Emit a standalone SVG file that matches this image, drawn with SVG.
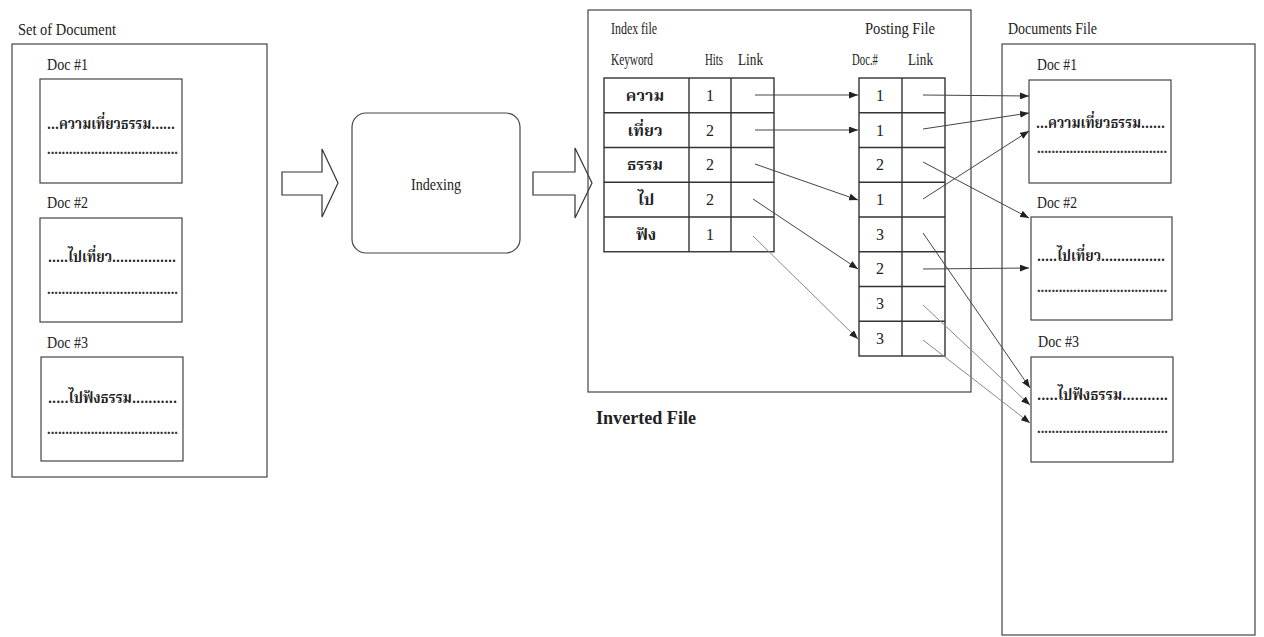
<svg xmlns="http://www.w3.org/2000/svg" width="1264" height="637" viewBox="0 0 1264 637">
  <style>
    .lbl { font-family: "Liberation Serif", "DejaVu Serif", serif; font-size: 16px; fill: #222; }
    .hdr { font-family: "Liberation Serif", "DejaVu Serif", serif; font-size: 16px; fill: #222; }
    .num { font-family: "Liberation Serif", "DejaVu Serif", serif; font-size: 16px; fill: #222; text-anchor: middle; }
    .th  { font-family: "Noto Serif Thai", "Noto Sans Thai", "Loma", "Garuda", "Norasi", "Liberation Serif", serif; font-size: 16px; font-weight: bold; fill: #222; }
    .thc { text-anchor: middle; }
    .dots { font-family: "Liberation Serif", serif; font-size: 15px; font-weight: bold; fill: #333; }
    .box { fill: none; stroke: #444; stroke-width: 1.2; }
    .cell { fill: none; stroke: #333; stroke-width: 1.4; }
    .hollow { fill: #fff; stroke: #333; stroke-width: 1.2; stroke-linejoin: miter; }
    .link { fill: none; stroke: #444; stroke-width: 1; }
    .link.light { stroke: #888; }
  </style>
  <defs>
    <marker id="tip" markerUnits="userSpaceOnUse" markerWidth="9" markerHeight="7" refX="9" refY="3.5" orient="auto">
      <path d="M0,0 L9,3.5 L0,7 Z" fill="#222"/>
    </marker>
  </defs>

  <rect width="1264" height="637" fill="#fff"/>

  <!-- Source documents -->
  <g id="set-of-document">
    <text class="lbl" x="18" y="35" textLength="98" lengthAdjust="spacingAndGlyphs">Set of Document</text>
    <rect class="box" x="12" y="44" width="255" height="433"/>
    <text class="lbl" x="47" y="70" textLength="41" lengthAdjust="spacingAndGlyphs">Doc #1</text>
    <rect class="box" x="40" y="79" width="142" height="104"/>
    <text class="th" x="47" y="129" textLength="128" lengthAdjust="spacingAndGlyphs">...ความเที่ยวธรรม......</text>
    <text class="dots" x="47" y="154" textLength="131" lengthAdjust="spacingAndGlyphs">....................................</text>
    <text class="lbl" x="47" y="208" textLength="41" lengthAdjust="spacingAndGlyphs">Doc #2</text>
    <rect class="box" x="40" y="218" width="142" height="104"/>
    <text class="th" x="48" y="262" textLength="128" lengthAdjust="spacingAndGlyphs">.....ไปเที่ยว................</text>
    <text class="dots" x="47" y="294" textLength="131" lengthAdjust="spacingAndGlyphs">....................................</text>
    <text class="lbl" x="47" y="348" textLength="41" lengthAdjust="spacingAndGlyphs">Doc #3</text>
    <rect class="box" x="41" y="357" width="142" height="104"/>
    <text class="th" x="48" y="403" textLength="129" lengthAdjust="spacingAndGlyphs">.....ไปฟังธรรม...........</text>
    <text class="dots" x="47" y="434" textLength="131" lengthAdjust="spacingAndGlyphs">....................................</text>
  </g>

  <!-- Block arrow into indexing -->
  <g id="arrow-in">
    <polygon class="hollow" points="282,172 322,172 322,149 338,183 322,217 322,195 282,195"/>
  </g>

  <!-- Indexing process -->
  <g id="indexing">
    <rect class="box" x="352" y="113" width="168" height="140" rx="14" ry="14"/>
    <text class="lbl" x="436" y="190" text-anchor="middle" textLength="50" lengthAdjust="spacingAndGlyphs">Indexing</text>
  </g>

  <!-- Block arrow out of indexing -->
  <g id="arrow-out">
    <polygon class="hollow" points="533,172 575,172 575,148 592,183 575,218 575,195 533,195"/>
  </g>

  <!-- Inverted file: index table and posting table -->
  <g id="inverted-file">
    <rect class="box" x="588" y="10" width="383" height="382"/>
    <text x="596" y="424" style="font-family:'Liberation Serif',serif;font-size:18px;font-weight:bold;fill:#222" textLength="100" lengthAdjust="spacingAndGlyphs">Inverted File</text>
  </g>

  <g id="index-file">
    <text class="hdr" x="611" y="34" textLength="46" lengthAdjust="spacingAndGlyphs">Index file</text>
    <text class="hdr" x="611" y="65" textLength="42" lengthAdjust="spacingAndGlyphs">Keyword</text>
    <text class="hdr" x="705" y="65" textLength="18" lengthAdjust="spacingAndGlyphs">Hits</text>
    <text class="hdr" x="738" y="65" textLength="25" lengthAdjust="spacingAndGlyphs">Link</text>
    <rect class="cell" x="604" y="78" width="170" height="173.75"/>
    <path class="cell" d="M689,78 V251.75 M731,78 V251.75 M604,112.75 H774 M604,147.5 H774 M604,182.25 H774 M604,217 H774"/>
    <text class="th thc" x="645" y="101">ความ</text>
    <text class="th thc" x="645" y="136">เที่ยว</text>
    <text class="th thc" x="645" y="170">ธรรม</text>
    <text class="th thc" x="646" y="205">ไป</text>
    <text class="th thc" x="646" y="240">ฟัง</text>
    <text class="num" x="710" y="101">1</text>
    <text class="num" x="710" y="136">2</text>
    <text class="num" x="710" y="170">2</text>
    <text class="num" x="710" y="205">2</text>
    <text class="num" x="710" y="240">1</text>
  </g>

  <g id="posting-file">
    <text class="hdr" x="865" y="34" textLength="70" lengthAdjust="spacingAndGlyphs">Posting File</text>
    <text class="hdr" x="852" y="65" textLength="26" lengthAdjust="spacingAndGlyphs">Doc.#</text>
    <text class="hdr" x="908" y="65" textLength="25" lengthAdjust="spacingAndGlyphs">Link</text>
    <rect class="cell" x="859" y="78" width="86" height="278"/>
    <path class="cell" d="M902,78 V356 M859,112.75 H945 M859,147.5 H945 M859,182.25 H945 M859,217 H945 M859,251.75 H945 M859,286.5 H945 M859,321.25 H945"/>
    <text class="num" x="880" y="101">1</text>
    <text class="num" x="880" y="136">1</text>
    <text class="num" x="880" y="170">2</text>
    <text class="num" x="880" y="205">1</text>
    <text class="num" x="880" y="240">3</text>
    <text class="num" x="880" y="274">2</text>
    <text class="num" x="880" y="309">3</text>
    <text class="num" x="880" y="344">3</text>
  </g>

  <!-- Stored documents -->
  <g id="documents-file">
    <text class="lbl" x="1008" y="34" textLength="89" lengthAdjust="spacingAndGlyphs">Documents File</text>
    <rect class="box" x="1002" y="44" width="253" height="591"/>
    <text class="lbl" x="1037" y="70" textLength="40" lengthAdjust="spacingAndGlyphs">Doc #1</text>
    <rect class="box" x="1029" y="80" width="142" height="103"/>
    <text class="th" x="1036" y="128" textLength="129" lengthAdjust="spacingAndGlyphs">...ความเที่ยวธรรม......</text>
    <text class="dots" x="1037" y="153" textLength="130" lengthAdjust="spacingAndGlyphs">....................................</text>
    <text class="lbl" x="1037" y="208" textLength="40" lengthAdjust="spacingAndGlyphs">Doc #2</text>
    <rect class="box" x="1031" y="217" width="141" height="103"/>
    <text class="th" x="1037" y="261" textLength="128" lengthAdjust="spacingAndGlyphs">.....ไปเที่ยว................</text>
    <text class="dots" x="1037" y="292" textLength="130" lengthAdjust="spacingAndGlyphs">....................................</text>
    <text class="lbl" x="1038" y="347" textLength="41" lengthAdjust="spacingAndGlyphs">Doc #3</text>
    <rect class="box" x="1031" y="357" width="142" height="105"/>
    <text class="th" x="1037" y="400" textLength="131" lengthAdjust="spacingAndGlyphs">.....ไปฟังธรรม...........</text>
    <text class="dots" x="1037" y="433" textLength="131" lengthAdjust="spacingAndGlyphs">....................................</text>
  </g>

  <!-- Pointers: index links to postings, posting links to documents -->
  <g id="connectors">
    <line class="link" x1="755" y1="95" x2="858" y2="95" marker-end="url(#tip)"/>
    <line class="link" x1="755" y1="130" x2="858" y2="130" marker-end="url(#tip)"/>
    <line class="link" x1="755" y1="164" x2="858" y2="200" marker-end="url(#tip)"/>
    <line class="link" x1="753" y1="199" x2="858" y2="269" marker-end="url(#tip)"/>
    <line class="link light" x1="753" y1="236" x2="858" y2="339" marker-end="url(#tip)"/>

    <line class="link" x1="923" y1="95" x2="1029" y2="96" marker-end="url(#tip)"/>
    <line class="link" x1="923" y1="129" x2="1029" y2="113" marker-end="url(#tip)"/>
    <line class="link" x1="923" y1="162" x2="1029" y2="218" marker-end="url(#tip)"/>
    <line class="link" x1="923" y1="199" x2="1029" y2="131" marker-end="url(#tip)"/>
    <line class="link" x1="923" y1="233" x2="1030" y2="388" marker-end="url(#tip)"/>
    <line class="link" x1="923" y1="269" x2="1029" y2="268" marker-end="url(#tip)"/>
    <line class="link light" x1="923" y1="305" x2="1030" y2="405" marker-end="url(#tip)"/>
    <line class="link light" x1="923" y1="340" x2="1030" y2="423" marker-end="url(#tip)"/>
  </g>
</svg>
